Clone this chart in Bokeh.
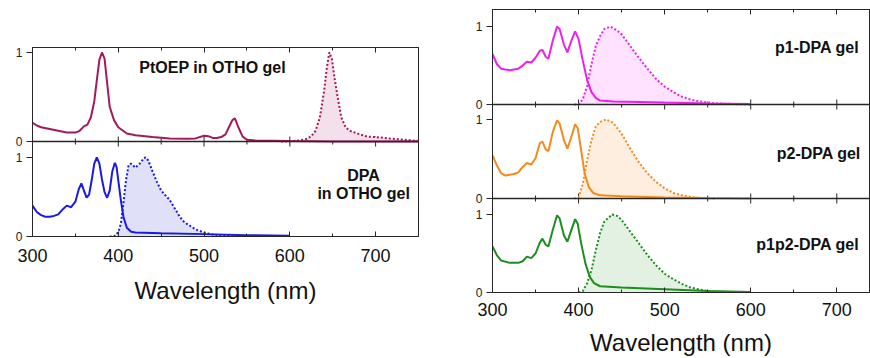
from bokeh.plotting import figure
from bokeh.layouts import row, column
from bokeh.models import Range1d, SingleIntervalTicker, FixedTicker, LinearAxis, Label, Span
from bokeh.embed import file_html
from bokeh.resources import INLINE

# ---------------- data ----------------
ptoep_abs_wl = [300, 305, 310, 320, 330, 340, 350, 355, 360, 364, 368, 372, 375, 378, 381, 384, 387, 390, 395, 400,
                410, 420, 440, 460, 480, 490, 500, 505, 510, 515, 520, 525, 530, 533, 536, 540, 545, 550, 560, 600, 650, 750]
ptoep_abs = [0.21, 0.18, 0.16, 0.14, 0.12, 0.10, 0.10, 0.12, 0.17, 0.19, 0.27, 0.45, 0.69, 0.92, 1.0, 0.93, 0.66, 0.39,
             0.24, 0.16, 0.09, 0.07, 0.05, 0.035, 0.03, 0.035, 0.065, 0.06, 0.04, 0.04, 0.05, 0.08, 0.18, 0.24, 0.26,
             0.16, 0.055, 0.02, 0.01, 0.005, 0.0, 0.0]
ptoep_em_wl = [590, 600, 610, 620, 625, 630, 635, 640, 643, 646, 649, 652, 655, 660, 665, 670, 680, 690, 700, 720, 740, 750]
ptoep_em = [0.0, 0.003, 0.01, 0.03, 0.06, 0.12, 0.27, 0.57, 0.82, 1.0, 0.93, 0.72, 0.54, 0.27, 0.16, 0.12, 0.086, 0.056,
            0.05, 0.03, 0.015, 0.005]

dpa_abs_wl = [300, 305, 310, 315, 320, 325, 330, 335, 340, 345, 350, 354, 357, 360, 363, 366, 369, 372, 375, 378, 381,
              384, 387, 390, 393, 396, 398, 400, 403, 406, 410, 415, 420, 450, 500, 550, 600]
dpa_abs = [0.39, 0.31, 0.27, 0.25, 0.25, 0.26, 0.28, 0.34, 0.39, 0.37, 0.44, 0.60, 0.67, 0.58, 0.49, 0.53, 0.71, 0.92,
           1.0, 0.92, 0.72, 0.56, 0.49, 0.58, 0.82, 0.93, 0.88, 0.71, 0.46, 0.25, 0.11, 0.06, 0.05, 0.04, 0.03, 0.017, 0.01]
dpa_em_wl = [390, 395, 400, 403, 406, 409, 412, 415, 420, 425, 430, 432, 435, 440, 445, 450, 455, 460, 465, 470, 475,
             480, 490, 500, 510, 520, 530, 540]
dpa_em = [0.0, 0.0, 0.055, 0.16, 0.42, 0.71, 0.90, 0.92, 0.87, 0.92, 0.99, 1.0, 0.96, 0.82, 0.69, 0.58, 0.52, 0.46,
          0.37, 0.28, 0.20, 0.16, 0.09, 0.05, 0.025, 0.013, 0.005, 0.0]

p1_abs_wl = [300, 305, 310, 315, 320, 330, 335, 340, 345, 350, 355, 358, 362, 365, 370, 375, 378, 383, 387, 391, 396,
             400, 405, 410, 415, 420, 425, 440, 500, 550, 600]
p1_abs = [0.65, 0.52, 0.46, 0.45, 0.44, 0.46, 0.50, 0.55, 0.54, 0.60, 0.69, 0.70, 0.61, 0.59, 0.82, 1.0, 0.97, 0.77,
          0.67, 0.80, 0.94, 0.84, 0.56, 0.31, 0.16, 0.085, 0.05, 0.04, 0.025, 0.013, 0.005]
p1_em_wl = [395, 400, 405, 410, 415, 420, 425, 430, 437, 445, 450, 460, 470, 480, 490, 500, 510, 520, 530, 540, 550,
            560, 580, 600]
p1_em = [0.0, 0.0, 0.07, 0.24, 0.52, 0.75, 0.88, 0.97, 1.0, 0.95, 0.90, 0.75, 0.60, 0.46, 0.33, 0.23, 0.16, 0.10,
         0.064, 0.04, 0.025, 0.015, 0.005, 0.0]

p2_abs_wl = [300, 305, 310, 315, 320, 325, 330, 335, 340, 345, 350, 355, 358, 362, 365, 370, 375, 378, 383, 387, 391,
             396, 399, 403, 407, 412, 417, 425, 450, 500, 550, 600]
p2_abs = [0.55, 0.42, 0.32, 0.29, 0.30, 0.31, 0.33, 0.40, 0.45, 0.43, 0.51, 0.70, 0.72, 0.62, 0.60, 0.84, 0.99, 0.95,
          0.74, 0.63, 0.76, 0.94, 0.89, 0.61, 0.32, 0.14, 0.07, 0.04, 0.03, 0.013, 0.005, 0.0]
p2_em_wl = [395, 400, 405, 410, 415, 420, 425, 432, 440, 450, 460, 470, 480, 490, 500, 510, 520, 530, 540, 550, 560]
p2_em = [0.0, 0.01, 0.19, 0.49, 0.74, 0.91, 0.97, 1.0, 0.96, 0.82, 0.63, 0.46, 0.32, 0.21, 0.13, 0.07, 0.04, 0.02,
         0.008, 0.003, 0.0]

p1p2_abs_wl = [300, 305, 310, 320, 330, 335, 340, 345, 350, 355, 358, 362, 365, 370, 375, 378, 383, 387, 391, 396, 399,
               403, 408, 413, 418, 425, 450, 500, 550, 600]
p1p2_abs = [0.59, 0.48, 0.41, 0.38, 0.38, 0.40, 0.46, 0.44, 0.50, 0.64, 0.69, 0.61, 0.59, 0.80, 0.99, 0.95, 0.73, 0.65,
            0.78, 0.94, 0.88, 0.63, 0.37, 0.20, 0.12, 0.08, 0.064, 0.043, 0.02, 0.005]
p1p2_em_wl = [400, 405, 410, 415, 420, 425, 430, 439, 445, 450, 460, 470, 480, 490, 500, 510, 520, 530, 540, 550, 560,
              580, 590]
p1p2_em = [0.0, 0.02, 0.12, 0.29, 0.54, 0.76, 0.91, 1.0, 0.98, 0.93, 0.78, 0.63, 0.48, 0.35, 0.24, 0.17, 0.11, 0.064,
           0.04, 0.02, 0.01, 0.003, 0.0]

x_tick_interval = 100
y_ticks = [0, 1]
x_title = "Wavelength (nm)"

FONT = "Liberation Sans"
FRAME = "#262626"


def xaxis(tin, tout, labels, s1=12, s2=12):
    ax = LinearAxis(ticker=SingleIntervalTicker(interval=x_tick_interval, num_minor_ticks=2),
                    major_tick_in=tin, major_tick_out=tout, minor_tick_in=max(tin - 2, 0),
                    minor_tick_out=max(tout - 2, 0),
                    axis_line_color=FRAME, major_tick_line_color=FRAME, minor_tick_line_color=FRAME,
                    major_label_text_font=FONT, major_label_text_color="#111111")
    if labels:
        ax.major_label_text_font_size = "18px"
        ax.major_label_standoff = s1
        ax.axis_label = x_title
        ax.axis_label_text_font = FONT
        ax.axis_label_text_font_size = "24px"
        ax.axis_label_text_font_style = "normal"
        ax.axis_label_text_color = "#111111"
        ax.axis_label_standoff = s2
    else:
        ax.major_label_text_font_size = "0px"
        ax.major_label_standoff = 0
        ax.major_label_text_alpha = 0
    return ax


def group(xr, panels, w, h, left, right, top, bottom, s1=12, s2=12):
    """panels: list of (name, y_top, pixel_height) from top to bottom"""
    total = sum(ph for _, _, ph in panels)
    ranges, units = {}, {}
    below = total
    for name, ytop, ph in panels:
        below -= ph
        above = total - below - ph
        u = ytop / ph
        units[name] = u
        ranges[name] = Range1d(-below * u, ytop + above * u)
    bottom_name = panels[-1][0]
    d = ranges[bottom_name]
    p = figure(width=w, height=h, x_range=Range1d(*xr), y_range=d,
               output_backend="svg", toolbar_location=None,
               x_axis_location=None, y_axis_location=None,
               min_border_left=left, min_border_right=right,
               min_border_top=top, min_border_bottom=bottom)
    p.extra_y_ranges = {n: r for n, r in ranges.items() if n != bottom_name}
    p.xgrid.visible = False
    p.ygrid.visible = False
    p.outline_line_color = FRAME
    p.outline_line_width = 1
    p.background_fill_color = "white"
    p.border_fill_color = "white"
    p.title.visible = False
    rname = {n: ("default" if n == bottom_name else n) for n, _, _ in panels}

    # one left axis on the bottom panel's range, carrying every panel's 0 / 1 ticks
    ticks, overrides = [], {}
    for n, _, _ in panels:
        r = ranges[n]
        for v in y_ticks:
            f = (v - r.start) / (r.end - r.start)
            t = round(d.start + f * (d.end - d.start), 6)
            ticks.append(t)
            overrides[t] = str(v)
    yax = LinearAxis(ticker=FixedTicker(ticks=ticks, minor_ticks=[]),
                     major_label_overrides=overrides,
                     major_tick_in=0, major_tick_out=6, minor_tick_in=0, minor_tick_out=0,
                     axis_line_color=FRAME, major_tick_line_color=FRAME,
                     major_label_text_font=FONT, major_label_text_font_size="12px",
                     major_label_text_color="#222222", major_label_standoff=4)
    p.add_layout(yax, "left")
    p.add_layout(xaxis(5, 0, True, s1, s2), "below")
    p.add_layout(xaxis(5, 0, False), "above")

    # panel separators with their inward ticks (every half interval)
    half = x_tick_interval // 2
    tx = list(range(int(xr[0]), int(xr[1]) + 1, half))
    for n, _, _ in panels[:-1]:
        p.add_layout(Span(location=0, dimension="width", y_range_name=n,
                          line_color=FRAME, line_width=1.5))
        u = units[n]
        ln = [5 if (x - xr[0]) % x_tick_interval == 0 else 3 for x in tx]
        p.segment(x0=tx, x1=tx, y0=[-l * u for l in ln], y1=[l * u for l in ln],
                  line_color=FRAME, line_width=1, y_range_name=n)
    return p, rname


def draw(p, rn, awl, a, ewl, e, line, fill):
    p.varea(x=ewl, y1=[0] * len(e), y2=e, fill_color=fill, fill_alpha=1.0, y_range_name=rn)
    p.line(ewl, e, line_color=line, line_width=2, line_dash="2 2", y_range_name=rn)
    p.line(awl, a, line_color=line, line_width=2, y_range_name=rn)


def lab(p, rn, x, y, text, align="center"):
    p.add_layout(Label(x=x, y=y, text=text, text_align=align, text_baseline="middle",
                       text_font=FONT, text_font_size="16px", text_font_style="bold",
                       text_color="#111111", y_range_name=rn))


LX = (300, 750)
RX = (300, 738)

L, ln = group(LX, [("pt", 1.056, 94), ("dpa", 1.20, 95)], 440, 358, 32, 22, 47, 122)
draw(L, ln["pt"], ptoep_abs_wl, ptoep_abs, ptoep_em_wl, ptoep_em, "#A3195B", "#F4E0EA")
lab(L, ln["pt"], 510, 0.83, "PtOEP in OTHO gel")
draw(L, ln["dpa"], dpa_abs_wl, dpa_abs, dpa_em_wl, dpa_em, "#1A1AE6", "#E0E1F8")
lab(L, ln["dpa"], 686, 0.77, "DPA")
lab(L, ln["dpa"], 686, 0.54, "in OTHO gel")

R, rn = group(RX, [("p1", 1.22, 95), ("p2", 1.19, 94), ("p1p2", 1.205, 94)], 430, 358, 52, 1, 9, 66,
              s1=10, s2=10)
draw(R, rn["p1"], p1_abs_wl, p1_abs, p1_em_wl, p1_em, "#EC1FEC", "#FFE2FF")
lab(R, rn["p1"], 726, 0.73, "p1-DPA gel", "right")
draw(R, rn["p2"], p2_abs_wl, p2_abs, p2_em_wl, p2_em, "#F28A1C", "#FDEEDF")
lab(R, rn["p2"], 728, 0.57, "p2-DPA gel", "right")
draw(R, rn["p1p2"], p1p2_abs_wl, p1p2_abs, p1p2_em_wl, p1p2_em, "#1F8C1F", "#E3F1E2")
lab(R, rn["p1p2"], 726, 0.62, "p1p2-DPA gel", "right")

layout = row(column(L, spacing=0), column(R, spacing=0), spacing=0)
open("out.html", "w").write(file_html(layout, INLINE))
